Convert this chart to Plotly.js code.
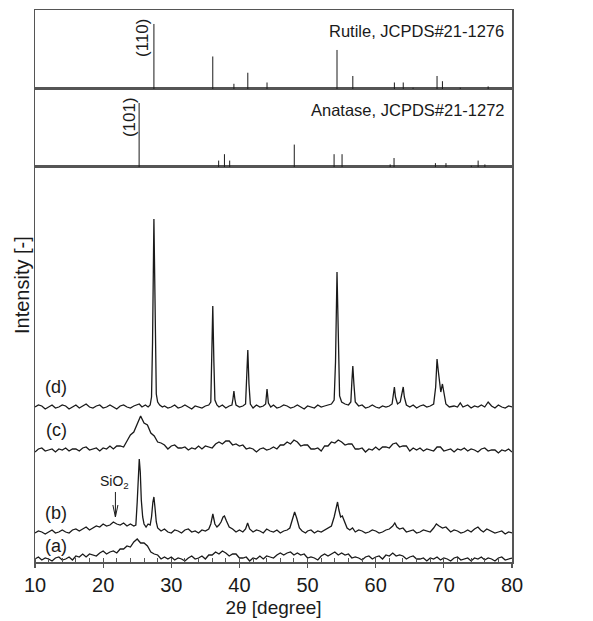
<!DOCTYPE html>
<html>
<head>
<meta charset="utf-8">
<script src="https://cdn.plot.ly/plotly-3.0.1.min.js"></script>
<style>html,body{margin:0;padding:0;background:#fff;}#chart{width:593px;height:621px;}</style>
</head>
<body>
<div id="chart"></div>
<script>
// Reference stick patterns (2theta, relative intensity %)
const rutilePos = [27.45, 36.09, 39.19, 41.23, 44.05, 54.32, 56.64, 62.74, 64.04, 65.48, 69.0, 69.79, 72.41, 76.5];
const rutileInt = [100, 50, 8, 25, 10, 60, 20, 10, 10, 2, 20, 12, 2, 4];
const anatasePos = [25.28, 36.95, 37.8, 38.57, 48.05, 53.89, 55.06, 62.12, 62.69, 68.76, 70.31, 74.03, 75.03, 76.02];
const anataseInt = [100, 10, 20, 10, 35, 20, 20, 4, 14, 6, 6, 2, 10, 4];

// Measured patterns [2theta, intensity (offset, arbitrary units)]
const patternA = [
[10,3],[10.5,5],[11,2],[11.5,4],[12,3],[12.5,1],[13,4],[13.5,5],[14,2],[14.5,3],[15,5],
[15.5,2],[16,6],[16.5,5],[17,8],[17.5,5],[18,8],[18.5,7],[19,6],[19.5,9],[20,11],
[20.5,8],[21,10],[21.5,11],[22,9],[22.5,13],[23,13],[23.5,16],[24,15],[24.5,20],[25,23],
[25.5,19],[26,19],[26.5,16],[27,10],[27.5,8],[28,7],[28.5,3],[29,5],[29.5,3],[30,5],
[30.5,2],[31,4],[31.5,3],[32,1],[32.5,4],[33,6],[33.5,3],[34,4],[34.5,6],[35,3],
[35.5,7],[36,7],[36.5,10],[37,8],[37.5,11],[38,9],[38.5,6],[39,8],[39.5,8],[40,4],
[40.5,4],[41,5],[41.5,1],[42,4],[42.5,3],[43,6],[43.5,3],[44,6],[44.5,5],[45,4],
[45.5,7],[46,9],[46.5,7],[47,9],[47.5,10],[48,7],[48.5,9],[49,7],[49.5,8],[50,4],
[50.5,5],[51,4],[51.5,2],[52,6],[52.5,8],[53,6],[53.5,8],[54,10],[54.5,7],[55,9],
[55.5,7],[56,8],[56.5,4],[57,5],[57.5,4],[58,2],[58.5,5],[59,6],[59.5,3],[60,5],
[60.5,6],[61,3],[61.5,7],[62,6],[62.5,9],[63,6],[63.5,7],[64,6],[64.5,3],[65,5],
[65.5,6],[66,3],[66.5,3],[67,4],[67.5,1],[68,4],[68.5,3],[69,5],[69.5,2],[70,4],
[70.5,3],[71,1],[71.5,4],[72,5],[72.5,2],[73,3],[73.5,4],[74,1],[74.5,4],[75,3],
[75.5,5],[76,2],[76.5,4],[77,3],[77.5,1],[78,4],[78.5,5],[79,2],[79.5,3],[80,4]
];
const patternB = [
[10,29],[10.5,31],[11,30],[11.5,28],[12,30],[12.5,32],[13,29],[13.5,30],[14,32],[14.5,30],
[15,29],[15.5,32],[16,33],[16.5,31],[17,33],[17.5,35],[18,32],[18.5,34],[19,36],[19.5,35],
[20,38],[20.5,36],[21,37],[21.5,40],[22,38],[22.5,37],[23,39],[23.5,36],[24,38],[24.5,36],
[24.8,37],[25.0,60],[25.15,90],[25.3,103],[25.45,90],[25.6,62],[25.8,45],[26.0,38],[26.3,35],[26.6,38],
[26.9,37],[27.1,45],[27.3,60],[27.45,65],[27.6,55],[27.8,40],[28.0,34],[28.5,31],[29,33],[29.5,30],
[30,29],[30.5,32],[31,31],[31.5,29],[32,32],[32.5,33],[33,30],[33.5,31],[34,29],[34.5,32],
[35,31],[35.5,33],[35.8,38],[36.1,48],[36.4,38],[36.7,35],[37,37],[37.3,40],[37.6,45],[37.8,46],
[38.1,41],[38.5,35],[39,33],[39.5,30],[40,32],[40.5,30],[40.9,33],[41.2,39],[41.5,33],[42,30],
[42.5,32],[43,31],[43.5,29],[44,33],[44.5,31],[45,30],[45.5,32],[46,29],[46.5,31],[47,32],
[47.4,34],[47.8,44],[48.1,50],[48.4,44],[48.8,34],[49.2,31],[49.7,29],[50,31],[50.5,32],[51,29],
[51.5,31],[52,30],[52.5,32],[53,34],[53.5,36],[53.9,45],[54.2,55],[54.4,60],[54.6,52],[54.85,45],
[55.1,46],[55.4,40],[55.8,34],[56.2,32],[56.6,34],[57,30],[57.5,32],[58,31],[58.5,29],[59,30],
[59.5,32],[60,31],[60.5,29],[61,30],[61.5,32],[62,33],[62.5,36],[62.8,39],[63.1,35],[63.5,33],
[64,34],[64.5,30],[65,31],[65.5,32],[66,29],[66.5,30],[67,32],[67.5,31],[68,30],[68.5,34],
[68.9,38],[69.3,36],[69.8,34],[70.3,35],[70.7,32],[71,30],[71.5,32],[72,31],[72.5,29],[73,30],
[73.5,32],[74,30],[74.5,33],[75,35],[75.4,32],[75.8,30],[76.3,33],[77,31],[77.5,29],[78,30],
[78.5,31],[79,28],[79.5,30],[80,29]
];
const patternC = [
[10,110],[10.5,113],[11,114],[11.5,111],[12,112],[12.5,113],[13,110],[13.5,113],[14,112],[14.5,114],[15,111],
[15.5,113],[16,113],[16.5,111],[17,114],[17.5,115],[18,112],[18.5,113],[19,114],[19.5,111],[20,114],
[20.5,113],[21,116],[21.5,113],[22,116],[22.5,116],[23,115],[23.5,121],[24,127],[24.5,130],[25,139],
[25.5,146],[26,139],[26.5,137],[27,129],[27.5,126],[28,120],[28.5,119],[29,117],[29.5,113],[30,116],
[30.5,117],[31,114],[31.5,114],[32,115],[32.5,112],[33,114],[33.5,113],[34,116],[34.5,113],[35,116],
[35.5,115],[36,114],[36.5,118],[37,120],[37.5,118],[38,121],[38.5,121],[39,117],[39.5,118],[40,116],
[40.5,117],[41,113],[41.5,114],[42,113],[42.5,110],[43,113],[43.5,114],[44,112],[44.5,113],[45,115],
[45.5,113],[46,117],[46.5,117],[47,120],[47.5,118],[48,122],[48.5,120],[49,116],[49.5,117],[50,117],
[50.5,113],[51,113],[51.5,114],[52,111],[52.5,116],[53,116],[53.5,120],[54,119],[54.5,122],[55,120],
[55.5,117],[56,118],[56.5,118],[57,113],[57.5,113],[58,114],[58.5,110],[59,113],[59.5,112],[60,115],
[60.5,112],[61,115],[61.5,115],[62,114],[62.5,118],[63,119],[63.5,115],[64,116],[64.5,116],[65,111],
[65.5,114],[66,112],[66.5,114],[67,111],[67.5,113],[68,112],[68.5,111],[69,115],[69.5,115],[70,111],
[70.5,112],[71,113],[71.5,110],[72,113],[72.5,112],[73,114],[73.5,111],[74,113],[74.5,112],[75,110],
[75.5,113],[76,114],[76.5,111],[77,112],[77.5,112],[78,109],[78.5,112],[79,111],[79.5,113],[80,110]
];
const patternD = [
[10,155],[10.5,157],[11,156],[11.5,153],[12,155],[12.5,157],[13,154],[13.5,155],[14,157],[14.5,156],
[15,153],[15.5,155],[16,157],[16.5,154],[17,156],[17.5,158],[18,155],[18.5,154],[19,156],[19.5,157],
[20,154],[20.5,155],[21,157],[21.5,155],[22,153],[22.5,156],[23,157],[23.5,155],[24,154],[24.5,156],
[25,157],[25.3,158],[25.7,155],[26.2,157],[26.6,155],[26.9,157],[27.1,165],[27.25,220],[27.45,343],[27.65,220],
[27.8,168],[28.0,160],[28.3,157],[28.7,155],[29,156],[29.5,154],[30,155],[30.5,157],[31,154],[31.5,155],
[32,157],[32.5,155],[33,153],[33.5,156],[34,155],[34.5,154],[35,156],[35.5,157],[35.8,160],[35.95,200],
[36.09,256],[36.25,200],[36.4,162],[36.7,157],[37,155],[37.5,157],[38,154],[38.5,156],[38.9,157],[39.05,163],
[39.19,171],[39.33,163],[39.5,157],[40,155],[40.5,156],[40.9,158],[41.05,180],[41.23,212],[41.4,178],[41.6,158],
[42,154],[42.5,157],[43,155],[43.5,156],[43.85,158],[44.05,173],[44.25,159],[44.6,155],[45,157],[45.5,154],
[46,155],[46.5,157],[47,156],[47.5,154],[48,155],[48.5,157],[49,155],[49.5,153],[50,156],[50.5,155],
[51,154],[51.5,157],[52,155],[52.5,156],[53,157],[53.5,158],[53.9,162],[54.1,200],[54.32,290],[54.5,210],
[54.7,166],[55,160],[55.5,158],[56,157],[56.35,160],[56.5,180],[56.64,196],[56.8,178],[57,160],[57.5,156],
[58,157],[58.5,154],[59,155],[59.5,157],[60,155],[60.5,154],[61,156],[61.5,155],[62,156],[62.4,158],
[62.6,168],[62.74,175],[62.9,165],[63.2,158],[63.6,160],[63.85,168],[64.04,175],[64.2,165],[64.5,157],[65,155],
[65.5,157],[66,154],[66.5,156],[67,157],[67.5,155],[68,156],[68.5,158],[68.8,175],[69.0,203],[69.2,190],
[69.4,175],[69.55,170],[69.79,178],[70.0,168],[70.3,158],[70.8,155],[71.5,156],[72,155],[72.41,159],[72.8,155],
[73.5,157],[74,154],[74.5,156],[75,155],[75.5,157],[76,155],[76.5,160],[77,156],[77.5,154],[78,157],
[78.5,155],[79,154],[79.5,156],[80,155]
];

// Labels
const curveLabels = ['(a)', '(b)', '(c)', '(d)'];
const curveLabelY = [16, 49, 132, 175];
const curveLabelX = 13.1;
const sio2Pos = 21.8;

const FONT = 'Liberation Sans, Arial, Helvetica, sans-serif';
const INK = '#1a1a1a';
const FRAME = '#555';

function sticks(pos, inten) {
  const x = [], y = [];
  pos.forEach((p, i) => { x.push(p, p, null); y.push(0, inten[i], null); });
  return {x, y};
}
const rs = sticks(rutilePos, rutileInt);
const as = sticks(anatasePos, anataseInt);

const traces = [];
[patternA, patternB, patternC, patternD].forEach(p => {
  traces.push({x: p.map(v => v[0]), y: p.map(v => v[1]), type: 'scatter', mode: 'lines',
    line: {color: INK, width: 1.3}, xaxis: 'x', yaxis: 'y', hoverinfo: 'skip', showlegend: false});
});
traces.push({x: as.x, y: as.y, type: 'scatter', mode: 'lines', line: {color: INK, width: 1},
  xaxis: 'x2', yaxis: 'y2', showlegend: false, hoverinfo: 'skip'});
traces.push({x: rs.x, y: rs.y, type: 'scatter', mode: 'lines', line: {color: INK, width: 1},
  xaxis: 'x3', yaxis: 'y3', showlegend: false, hoverinfo: 'skip'});

const hidden = {showticklabels: false, ticks: '', showgrid: false, zeroline: false,
  showline: true, mirror: true, linecolor: FRAME, linewidth: 1.5};

const annotations = [];
curveLabels.forEach((t, i) => annotations.push({x: curveLabelX, y: curveLabelY[i], xref: 'x', yref: 'y',
  text: t, showarrow: false, xanchor: 'center', yanchor: 'middle', font: {family: FONT, size: 18, color: INK}}));
annotations.push({x: sio2Pos - 0.1, y: 80, xref: 'x', yref: 'y', text: 'SiO<sub>2</sub>', showarrow: false,
  xanchor: 'center', yanchor: 'middle', font: {family: FONT, size: 14, color: INK}});
annotations.push({x: 25.8, y: 78, xref: 'x3', yref: 'y3', text: '(110)', textangle: -90, showarrow: false,
  xanchor: 'center', yanchor: 'middle', font: {family: FONT, size: 17, color: INK}});
annotations.push({x: 23.8, y: 78, xref: 'x2', yref: 'y2', text: '(101)', textangle: -90, showarrow: false,
  xanchor: 'center', yanchor: 'middle', font: {family: FONT, size: 17, color: INK}});
annotations.push({x: 0.988, y: 0.962, xref: 'paper', yref: 'paper', xanchor: 'right', yanchor: 'middle',
  text: 'Rutile, JCPDS#21-1276', showarrow: false, font: {family: FONT, size: 16.5, color: INK}});
annotations.push({x: 0.99, y: 0.819, xref: 'paper', yref: 'paper', xanchor: 'right', yanchor: 'middle',
  text: 'Anatase, JCPDS#21-1272', showarrow: false, font: {family: FONT, size: 16.5, color: INK}});
annotations.push({x: -0.027, y: 0.502, xref: 'paper', yref: 'paper', xanchor: 'center', yanchor: 'middle',
  text: 'Intensity [-]', textangle: -90, showarrow: false, font: {family: FONT, size: 20, color: INK}});

const shapes = [
  {type: 'line', xref: 'x', yref: 'y', x0: sio2Pos, x1: sio2Pos, y0: 70, y1: 45, line: {color: INK, width: 1}},
  {type: 'line', xref: 'x', yref: 'y', x0: sio2Pos - 0.37, x1: sio2Pos, y0: 57, y1: 45, line: {color: INK, width: 1}},
  {type: 'line', xref: 'x', yref: 'y', x0: sio2Pos + 0.37, x1: sio2Pos, y0: 57, y1: 45, line: {color: INK, width: 1}}
];

const layout = {
  width: 593, height: 621,
  margin: {l: 35, r: 81, t: 10, b: 59},
  paper_bgcolor: '#fff', plot_bgcolor: '#fff',
  showlegend: false,
  font: {family: FONT, color: INK},
  xaxis: {domain: [0, 1], anchor: 'y', range: [10, 80], showgrid: false, zeroline: false,
    showline: true, mirror: true, linecolor: FRAME, linewidth: 1.5,
    ticks: 'outside', ticklen: 4, tickwidth: 1.2, tickcolor: FRAME, dtick: 10, tick0: 10,
    tickfont: {family: FONT, size: 20, color: INK},
    minor: {dtick: 2, ticks: 'inside', ticklen: 4, tickwidth: 1, tickcolor: FRAME, showgrid: false},
    title: {text: '2θ [degree]', font: {family: FONT, size: 19, color: INK}, standoff: 6}},
  yaxis: Object.assign({domain: [0, 0.7156], anchor: 'x', range: [0, 395]}, hidden),
  xaxis2: Object.assign({domain: [0, 1], anchor: 'y2', range: [10, 80], matches: 'x'}, hidden),
  yaxis2: Object.assign({domain: [0.7156, 0.8569], anchor: 'x2', range: [0, 121.9]}, hidden),
  xaxis3: Object.assign({domain: [0, 1], anchor: 'y3', range: [10, 80], matches: 'x'}, hidden),
  yaxis3: Object.assign({domain: [0.8569, 1], anchor: 'x3', range: [0, 121.5]}, hidden),
  annotations: annotations,
  shapes: shapes
};

Plotly.newPlot('chart', traces, layout, {displayModeBar: false, staticPlot: true});
</script>
</body>
</html>
